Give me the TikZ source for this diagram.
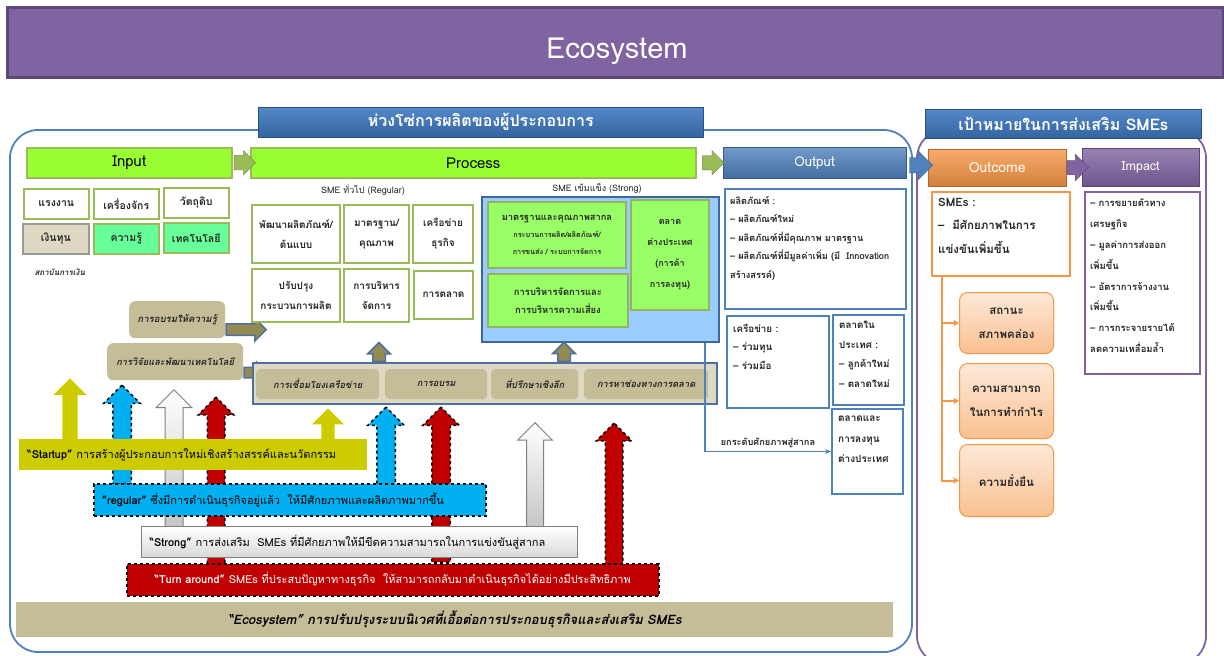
\documentclass[tikz,border=0pt]{standalone}
\usepackage{fontspec}
\setmainfont{Loma}[Script=Thai]
\usepackage{tikz}
\usetikzlibrary{arrows.meta, positioning, shapes.arrows, calc}
\usepackage{xcolor}
\definecolor{titlepurple}{RGB}{128,100,162}
\definecolor{titleedge}{RGB}{92,71,118}
\definecolor{lineblue}{RGB}{79,129,189}
\definecolor{headtop}{RGB}{84,136,200}
\definecolor{headbot}{RGB}{52,100,160}
\definecolor{lime}{RGB}{153,255,51}
\definecolor{limeedge}{RGB}{155,187,89}
\definecolor{capgray}{RGB}{221,217,195}
\definecolor{knowgreen}{RGB}{102,255,153}
\definecolor{tan}{RGB}{196,189,151}
\definecolor{tandark}{RGB}{148,138,84}
\definecolor{steelblue}{RGB}{79,111,160}
\definecolor{skyblue}{RGB}{153,204,255}
\definecolor{sgreen}{RGB}{153,255,102}
\definecolor{outorange}{RGB}{247,150,70}
\definecolor{paleorange}{RGB}{253,233,217}
\definecolor{peach}{RGB}{250,192,144}
\definecolor{ybanner}{RGB}{204,204,0}
\definecolor{cbanner}{RGB}{0,176,240}
\definecolor{rbanner}{RGB}{192,0,0}
\definecolor{inktext}{RGB}{38,38,38}
\newcommand\fsz[2]{\fontsize{#1}{#2}\selectfont}
\tikzset{
    % sizes and frames
    wh/.style 2 args={minimum width=#1pt, minimum height=#2pt},
    titlebar/.style={rectangle, fill=titlepurple, draw=titleedge, line width=3pt},
    frame/.style={rounded corners=28pt, line width=1.8pt, draw=#1},
    headbar/.style={rectangle, top color=headtop, bottom color=headbot, draw=headbot!80!black,
                text=white, font=\fsz{16}{18}\bfseries, anchor=north west},
    % chain bars
    phasebar/.style={rectangle, fill=lime, draw=limeedge, line width=1.5pt,
                font=\fsz{15}{17}, anchor=north west},
    gobar/.style={rectangle, top color=#1!80!white, bottom color=#1!85!black, draw=#1!70!black,
                text=white, font=\fsz{13.5}{15}, anchor=north west},
    chev/.style={single arrow, fill=#1, draw=#1!70!black},
    % input / process boxes
    inbox/.style={rectangle, draw=limeedge, line width=1.5pt, fill=#1, text=inktext,
                font=\fsz{10.5}{12}\bfseries, anchor=north west, align=center, inner sep=1pt},
    rbox/.style={rectangle, draw=limeedge, line width=2pt, fill=#1, text=inktext,
                font=\fsz{10}{20}\bfseries, anchor=north west, align=center, inner sep=1pt},
    tanbox/.style={rectangle, rounded corners=6pt, fill=tan, text=inktext,
                font=\fsz{9.3}{12}\bfseries\itshape, anchor=north west, inner sep=1pt},
    tanarrow/.style={single arrow, fill=tandark, draw=steelblue, line width=1.5pt},
    sublbl/.style={font=\fsz{9}{11}, text=inktext},
    % output / outcome
    obox/.style={rectangle, draw=#1, line width=2pt, fill=white, anchor=north west},
    listtxt/.style={anchor=north west, align=left, text=inktext, inner sep=0pt},
    resbox/.style={rectangle, rounded corners=8pt, top color=paleorange, bottom color=peach,
                draw=outorange, line width=1pt, text=inktext, font=\fsz{11.5}{24}\bfseries,
                anchor=north west, align=center},
    riseline/.style={-{Stealth[length=6pt, width=5pt]}, lineblue, line width=1.2pt},
    oline/.style={-{Stealth[length=6pt, width=7pt]}, outorange, line width=2pt},
    % up arrows and banners
    uparr/.style={single arrow, shape border rotate=90, inner sep=8.5pt, anchor=tip,
                single arrow head extend=9pt},
    banner/.style={rectangle, anchor=north west, inner xsep=8pt, align=left,
                font=\fsz{11}{13}, text=black},
    dashline/.style={draw=black, dashed, line width=1.5pt},
}

\begin{document}
\begin{tikzpicture}[x=1pt, y=-1pt]
\useasboundingbox (0,0) rectangle (1224,656);

% title
\node[titlebar, wh={1216}{70}, anchor=north west] (title) at (6,6) {};
\node[text=white, font=\fsz{29}{31}] (titletxt) at (617,51) {Ecosystem};

% frames
\draw[frame=lineblue] (10,130) rectangle (912,652);
\draw[frame=titlepurple] (917,130) rectangle (1206,664);
\node[headbar, wh={445}{30}] (chain) at (258,107) {ห่วงโซ่การผลิตของผู้ประกอบการ};
\node[headbar, wh={276}{29}] (goal) at (925,109) {เป้าหมายในการส่งเสริม SMEs};

% chain bars
\node[phasebar, wh={205}{30}] (input) at (26,147) {Input};
\node[phasebar, wh={445}{30}] (process) at (250,147) {Process};
\node[gobar=lineblue, wh={183}{31}] (output) at (723,147) {Output};
\node[gobar=outorange, wh={138}{37}, font=\fsz{14}{16}] (outcome) at (928,149) {Outcome};
\node[gobar=titlepurple, wh={117}{38}, font=\fsz{12.5}{14}] (impact) at (1082,148) {Impact};

\node[chev=limeedge, inner sep=7pt, single arrow head extend=5pt, minimum height=17pt]
    (ch1) at ($(input.east)!0.5!(process.west)$) {};
\node[chev=limeedge, inner sep=7pt, single arrow head extend=5pt, minimum height=19pt]
    (ch2) at ($(process.east)!0.5!(output.west)$) {};
\node[chev=lineblue, inner sep=7.5pt, single arrow head extend=6.5pt, minimum height=21pt]
    (ch3) at ($(output.east)!0.5!(outcome.west)$) {};
\node[chev=titlepurple, inner sep=7pt, single arrow head extend=6pt, minimum height=18pt]
    (ch4) at ($(outcome.east)!0.5!(impact.west)$) {};

% input
\node[inbox=white, wh={65}{30}] (labour) at (23,188) {แรงงาน};
\node[inbox=white, wh={65}{30}] (machine) at (93,188) {เครื่องจักร};
\node[inbox=white, wh={65}{30}] (material) at (163,187) {วัตถุดิบ};
\node[inbox=capgray, draw=gray!80, wh={66}{30}] (capital) at (22,223) {เงินทุน};
\node[inbox=knowgreen, wh={65}{30}] (knowledge) at (93,223) {ความรู้};
\node[inbox=knowgreen, wh={65}{30}] (tech) at (163,222) {เทคโนโลยี};
\node[anchor=west, font=\fsz{8}{9}\bfseries\itshape, text=inktext] (finance) at (31,272) {สถาบันการเงิน};

\node[tanbox, wh={96}{37}, font=\fsz{9.6}{12}\bfseries\itshape] (train) at (129,301) {การอบรมให้ความรู้};
\node[tanbox, wh={136}{37}] (research) at (107,343) {การวิจัยและพัฒนาเทคโนโลยี};
\node[tanarrow, inner sep=5pt, single arrow head extend=5.5pt, minimum height=40pt, anchor=tail]
    (ta1) at ([yshift=-10pt]train.east) {};
\node[tanarrow, inner sep=4.5pt, single arrow head extend=5pt, minimum height=23pt, anchor=tail]
    (ta2) at ([yshift=-11pt]research.east) {};

% process: regular
\node[sublbl] (reglbl) at (363,190) {SME ทั่วไป (Regular)};
\node[rbox=white, wh={88}{58}] (develop) at (251,204) {พัฒนาผลิตภัณฑ์/\\ต้นแบบ};
\node[rbox=white, wh={65}{58}] (standard) at (343,204) {มาตรฐาน/\\คุณภาพ};
\node[rbox=white, wh={60}{58}] (bizlink) at (412,204) {เครือข่าย\\ธุรกิจ};
\node[rbox=white, wh={88}{53}] (improve) at (251,268) {ปรับปรุง\\กระบวนการผลิต};
\node[rbox=white, wh={65}{53}] (manage) at (343,268) {การบริหาร\\จัดการ};
\node[rbox=white, wh={59}{48}] (market) at (413,270) {การตลาด};

% process: strong
\node[sublbl] (strlbl) at (597,188) {SME เข้มแข็ง (Strong)};
\node[rectangle, fill=skyblue, draw=lineblue!80!black, line width=2pt, wh={237}{145}, anchor=north west]
    (strongbox) at (481,196) {};
\node[rbox=sgreen, draw=limeedge!85!gray, wh={138}{66}, font=\fsz{7.3}{17}\bfseries] (intl) at (487,201)
    {{\fsz{9.3}{17}\bfseries มาตรฐานและคุณภาพสากล}\\กระบวนการผลิต/ผลิตภัณฑ์/\\การขนส่ง / ระบบการจัดการ};
\node[rbox=sgreen, draw=limeedge!85!gray, wh={140}{53}, font=\fsz{9.4}{18}\bfseries] (risk) at (487,273)
    {การบริหารจัดการและ\\การบริหารความเสี่ยง};
\node[rbox=sgreen, draw=limeedge!85!gray, wh={78}{110}, font=\fsz{9}{21}\bfseries] (abroad) at (630,199)
    {ตลาด\\ต่างประเทศ\\(การค้า\\การลงทุน)};

% services
\node[rectangle, fill=capgray, draw=steelblue, line width=2pt, wh={464}{41}, anchor=north west]
    (services) at (252,362) {};
\node[tanbox, wh={123}{30}, rounded corners=4pt] (sv1) at (256,369) {การเชื่อมโยงเครือข่าย};
\node[tanbox, wh={102}{30}, rounded corners=4pt] (sv2) at (385,369) {การอบรม};
\node[tanbox, wh={87}{30}, rounded corners=4pt] (sv3) at (491,369) {ที่ปรึกษาเชิงลึก};
\node[tanbox, wh={124}{30}, rounded corners=4pt] (sv4) at (584,369) {การหาช่องทางการตลาด};
\node[tanarrow, shape border rotate=90, inner sep=5.5pt, single arrow head extend=5pt, minimum height=16pt,
    anchor=tail] (su1) at (services.north -| 379,0) {};
\node[tanarrow, shape border rotate=90, inner sep=5.5pt, single arrow head extend=5pt, minimum height=19pt,
    anchor=tail] (su2) at (services.north -| 564,0) {};

% output
\node[obox=lineblue, wh={181}{120}] (product) at (724,188) {};
\node[listtxt, font=\fsz{9.2}{18.5}\bfseries] (prodtxt) at ([shift={(6pt,-8pt)}]product.north west)
    {ผลิตภัณฑ์ :\\– ผลิตภัณฑ์ใหม่\\– ผลิตภัณฑ์ที่มีคุณภาพ มาตรฐาน\\– ผลิตภัณฑ์ที่มีมูลค่าเพิ่ม (มี~ Innovation\\สร้างสรรค์)};
\node[obox=lineblue, wh={102}{92}] (network) at (726,315) {};
\node[listtxt, font=\fsz{9.8}{18.5}\bfseries] (nettxt) at ([shift={(7pt,-9pt)}]network.north west)
    {เครือข่าย :\\– ร่วมทุน\\– ร่วมมือ};
\node[obox=lineblue, wh={71}{90}] (domestic) at (832,314) {};
\node[listtxt, font=\fsz{9.8}{19.5}\bfseries] (domtxt) at ([shift={(7pt,-7pt)}]domestic.north west)
    {ตลาดใน\\ประเทศ :\\– ลูกค้าใหม่\\– ตลาดใหม่};
\node[obox=lineblue, wh={71}{85}] (foreign) at (831,408) {};
\node[listtxt, font=\fsz{10}{20.5}\bfseries] (fortxt) at ([shift={(7pt,-8pt)}]foreign.north west)
    {ตลาดและ\\การลงทุน\\ต่างประเทศ};
\draw[riseline] ([xshift=-15pt]strongbox.south east) |- (foreign.west)
    node[pos=0.75, above, font=\fsz{9.2}{10}\bfseries, text=inktext] {ยกระดับศักยภาพสู่สากล};

% outcome and impact
\node[obox=outorange, wh={138}{84}] (smes) at (931,191) {};
\node[listtxt, font=\fsz{11.5}{23.5}\bfseries] (smestxt) at ([shift={(7pt,-7pt)}]smes.north west)
    {SMEs :\\–~~มีศักยภาพในการ\\แข่งขันเพิ่มขึ้น};
\node[resbox, wh={94}{61}] (liquid) at (959,292) {สถานะ\\สภาพคล่อง};
\node[resbox, wh={94}{75}] (profit) at (959,363) {ความสามารถ\\ในการทำกำไร};
\node[resbox, wh={94}{72}] (sustain) at (959,444) {ความยั่งยืน};
\coordinate (spine) at ([xshift=11pt]smes.south west);
\draw[oline] (spine) |- (sustain.west);
\draw[oline] (spine |- liquid.west) -- (liquid.west);
\draw[oline] (spine |- profit.west) -- (profit.west);
\node[obox=titlepurple, wh={115}{182}] (impbox) at (1084,191) {};
\node[listtxt, font=\fsz{9.5}{20.8}\bfseries] (imptxt) at ([shift={(6pt,-8pt)}]impbox.north west)
    {– การขยายตัวทาง\\เศรษฐกิจ\\– มูลค่าการส่งออก\\เพิ่มขึ้น\\– อัตราการจ้างงาน\\เพิ่มขึ้น\\– การกระจายรายได้\\ลดความเหลื่อมล้ำ};

% up arrows (behind the banners)
\node[uparr, fill=ybanner, inner sep=7.5pt, minimum height=61pt] (yup1) at (70,378) {};
\node[uparr, fill=cbanner, dashline, minimum height=99pt] (bup1) at (122,384) {};
\node[uparr, top color=white, bottom color=gray!45, draw=gray, line width=1pt, minimum height=137pt] (gup1) at (174,389) {};
\node[uparr, fill=rbanner, dashline, inner sep=8pt, minimum height=168pt] (rup1) at (216,396) {};
\node[uparr, fill=ybanner, inner sep=6.5pt, single arrow head extend=9.5pt, minimum height=31pt] (yup2) at (328,408) {};
\node[uparr, fill=cbanner, dashline, minimum height=77pt] (bup2) at (386,406) {};
\node[uparr, fill=rbanner, dashline, minimum height=155pt] (rup2) at (441,406) {};
\node[uparr, top color=white, bottom color=gray!45, draw=gray, line width=1pt, inner sep=8pt, minimum height=104pt] (gup2) at (535,422) {};
\node[uparr, fill=rbanner, dashline, inner sep=8pt, minimum height=142pt] (rup3) at (614,422) {};

% banners
\node[banner, fill=rbanner, dashline, wh={532}{32}, align=center, text=white] (turn) at (126,563)
    {\textbf{“Turn around”} SMEs ที่ประสบปัญหาทางธุรกิจ~ ให้สามารถกลับมาดำเนินธุรกิจได้อย่างมีประสิทธิภาพ};
\node[banner, top color=white, bottom color=gray!30, draw=gray, line width=1pt, wh={436}{31}, text width=420pt] (strongbn) at (141,526)
    {\textbf{“Strong”} การส่งเสริม~ SMEs ที่มีศักยภาพให้มีขีดความสามารถในการแข่งขันสู่สากล};
\node[banner, fill=cbanner, dashline, wh={392}{32}, text width=376pt] (regular) at (93,483)
    {\textbf{"regular"} ซึ่งมีการดำเนินธุรกิจอยู่แล้ว~ ให้มีศักยภาพและผลิตภาพมากขึ้น};
\node[banner, fill=ybanner, wh={348}{31}, text width=332pt] (startup) at (19,439)
    {\textbf{“Startup”} การสร้างผู้ประกอบการใหม่เชิงสร้างสรรค์และนวัตกรรม};
\node[banner, fill=tan, wh={877}{35}, align=center, font=\fsz{13}{15}\bfseries\itshape] (eco) at (16,602)
    {“Ecosystem” การปรับปรุงระบบนิเวศที่เอื้อต่อการประกอบธุรกิจและส่งเสริม SMEs};
\end{tikzpicture}
\end{document}
